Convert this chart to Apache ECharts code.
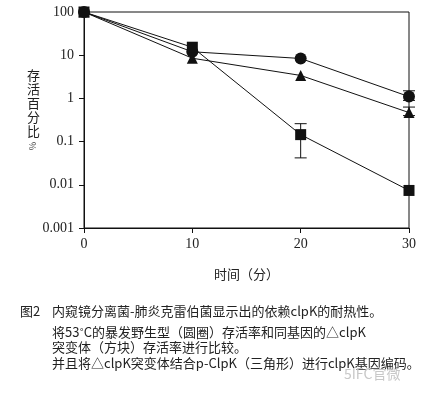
<!DOCTYPE html>
<html><head><meta charset="utf-8">
<script src="https://cdn.jsdelivr.net/npm/echarts@6/dist/echarts.min.js"></script>
<style>html,body{margin:0;padding:0;background:#fff}#c{width:429px;height:394px}</style>
</head><body><div id="c"></div>
<script>
const timeMin = [0, 10, 20, 30];
const wildType = [100, 12, 8.4, 1.1];          // circles
const complemented = [100, 8.5, 3.4, 0.47];    // triangles
const mutant = [100, 15.3, 0.145, 0.0074];     // squares
const yTicks = [0.001, 0.01, 0.1, 1, 10, 100];
const errorBars = [[20, 0.042, 0.26], [30, 0.9, 1.5], [30, 0.4, 0.63]];
const xName = '时间（分）';
const yName = ['存', '活', '百', '分', '比'];
const caption = [
  '内窥镜分离菌-肺炎克雷伯菌显示出的依赖clpK的耐热性。',
  '将53˚C的暴发野生型（圆圈）存活率和同基因的△clpK',
  '突变体（方块）存活率进行比较。',
  '并且将△clpK突变体结合p-ClpK（三角形）进行clpK基因编码。'
];

const chart = echarts.init(document.getElementById('c'));
const pair = arr => timeMin.map((t, i) => [t, arr[i]]);
const serif = 'Liberation Serif';
const cjk = 'Noto Sans CJK SC';

const lineSeries = (data, symbol, size) => ({
  type: 'line', data: pair(data), symbol: symbol, symbolSize: size,
  lineStyle: { color: '#111', width: 1 }, itemStyle: { color: '#111' },
  showAllSymbol: true, z: 3, animation: false
});

chart.setOption({
  animation: false,
  grid: { left: 84, right: 20, top: 12, bottom: 166, show: true, borderColor: '#111', borderWidth: 1 },
  xAxis: {
    type: 'value', min: 0, max: 30, interval: 10,
    axisLine: { lineStyle: { color: '#111', width: 1 } },
    axisTick: { show: true, length: 5, lineStyle: { color: '#111' } },
    splitLine: { show: false },
    axisLabel: { color: '#222', fontFamily: serif, fontSize: 14, margin: 9 },
    name: xName, nameLocation: 'middle', nameGap: 40,
    nameTextStyle: { color: '#222', fontFamily: cjk, fontSize: 13 }
  },
  yAxis: {
    type: 'log', logBase: 10, min: yTicks[0], max: yTicks[yTicks.length - 1],
    axisLine: { show: true, lineStyle: { color: '#111', width: 1 } },
    axisTick: { show: true, length: 5, lineStyle: { color: '#111' } },
    minorTick: { show: false }, splitLine: { show: false },
    axisLabel: { color: '#222', fontFamily: serif, fontSize: 14, margin: 10,
      formatter: v => String(+v.toPrecision(3)) }
  },
  graphic: [
    { type: 'text', left: 27, top: 68, style: { text: yName.join('\n'), font: '13px "Noto Sans CJK SC"', fill: '#222', lineHeight: 14 } },
    { type: 'text', left: 28, top: 142, rotation: -Math.PI / 2, style: { text: '%', font: '9px "Noto Sans CJK SC"', fill: '#444' } },
    { type: 'text', left: 20, top: 305, style: { text: '图2', font: '13px "Noto Sans CJK SC"', fill: '#222' } },
    { type: 'text', left: 52, top: 305, style: { text: caption[0], font: '13px "Noto Sans CJK SC"', fill: '#222' } },
    { type: 'text', left: 52, top: 326, style: { text: caption[1], font: '13px "Noto Sans CJK SC"', fill: '#222' } },
    { type: 'text', left: 52, top: 341, style: { text: caption[2], font: '13px "Noto Sans CJK SC"', fill: '#222' } },
    { type: 'text', left: 52, top: 357, style: { text: caption[3], font: '13px "Noto Sans CJK SC"', fill: '#222' } },
    { type: 'text', left: 344, top: 367, style: { text: '5IFC官微', font: '14px "Noto Sans CJK SC"', fill: '#c8c8c8' } }
  ],
  series: [
    lineSeries(wildType, 'circle', 12),
    lineSeries(complemented, 'triangle', 11),
    lineSeries(mutant, 'rect', 11),
    {
      type: 'custom', data: errorBars, z: 2, animation: false,
      renderItem: (params, api) => {
        const top = api.coord([api.value(0), api.value(2)]);
        const bot = api.coord([api.value(0), api.value(1)]);
        const w = 6;
        const st = { stroke: '#111', lineWidth: 1 };
        return { type: 'group', children: [
          { type: 'line', shape: { x1: top[0], y1: top[1], x2: bot[0], y2: bot[1] }, style: st },
          { type: 'line', shape: { x1: top[0] - w, y1: top[1], x2: top[0] + w, y2: top[1] }, style: st },
          { type: 'line', shape: { x1: bot[0] - w, y1: bot[1], x2: bot[0] + w, y2: bot[1] }, style: st }
        ] };
      }
    }
  ]
});
</script></body></html>
